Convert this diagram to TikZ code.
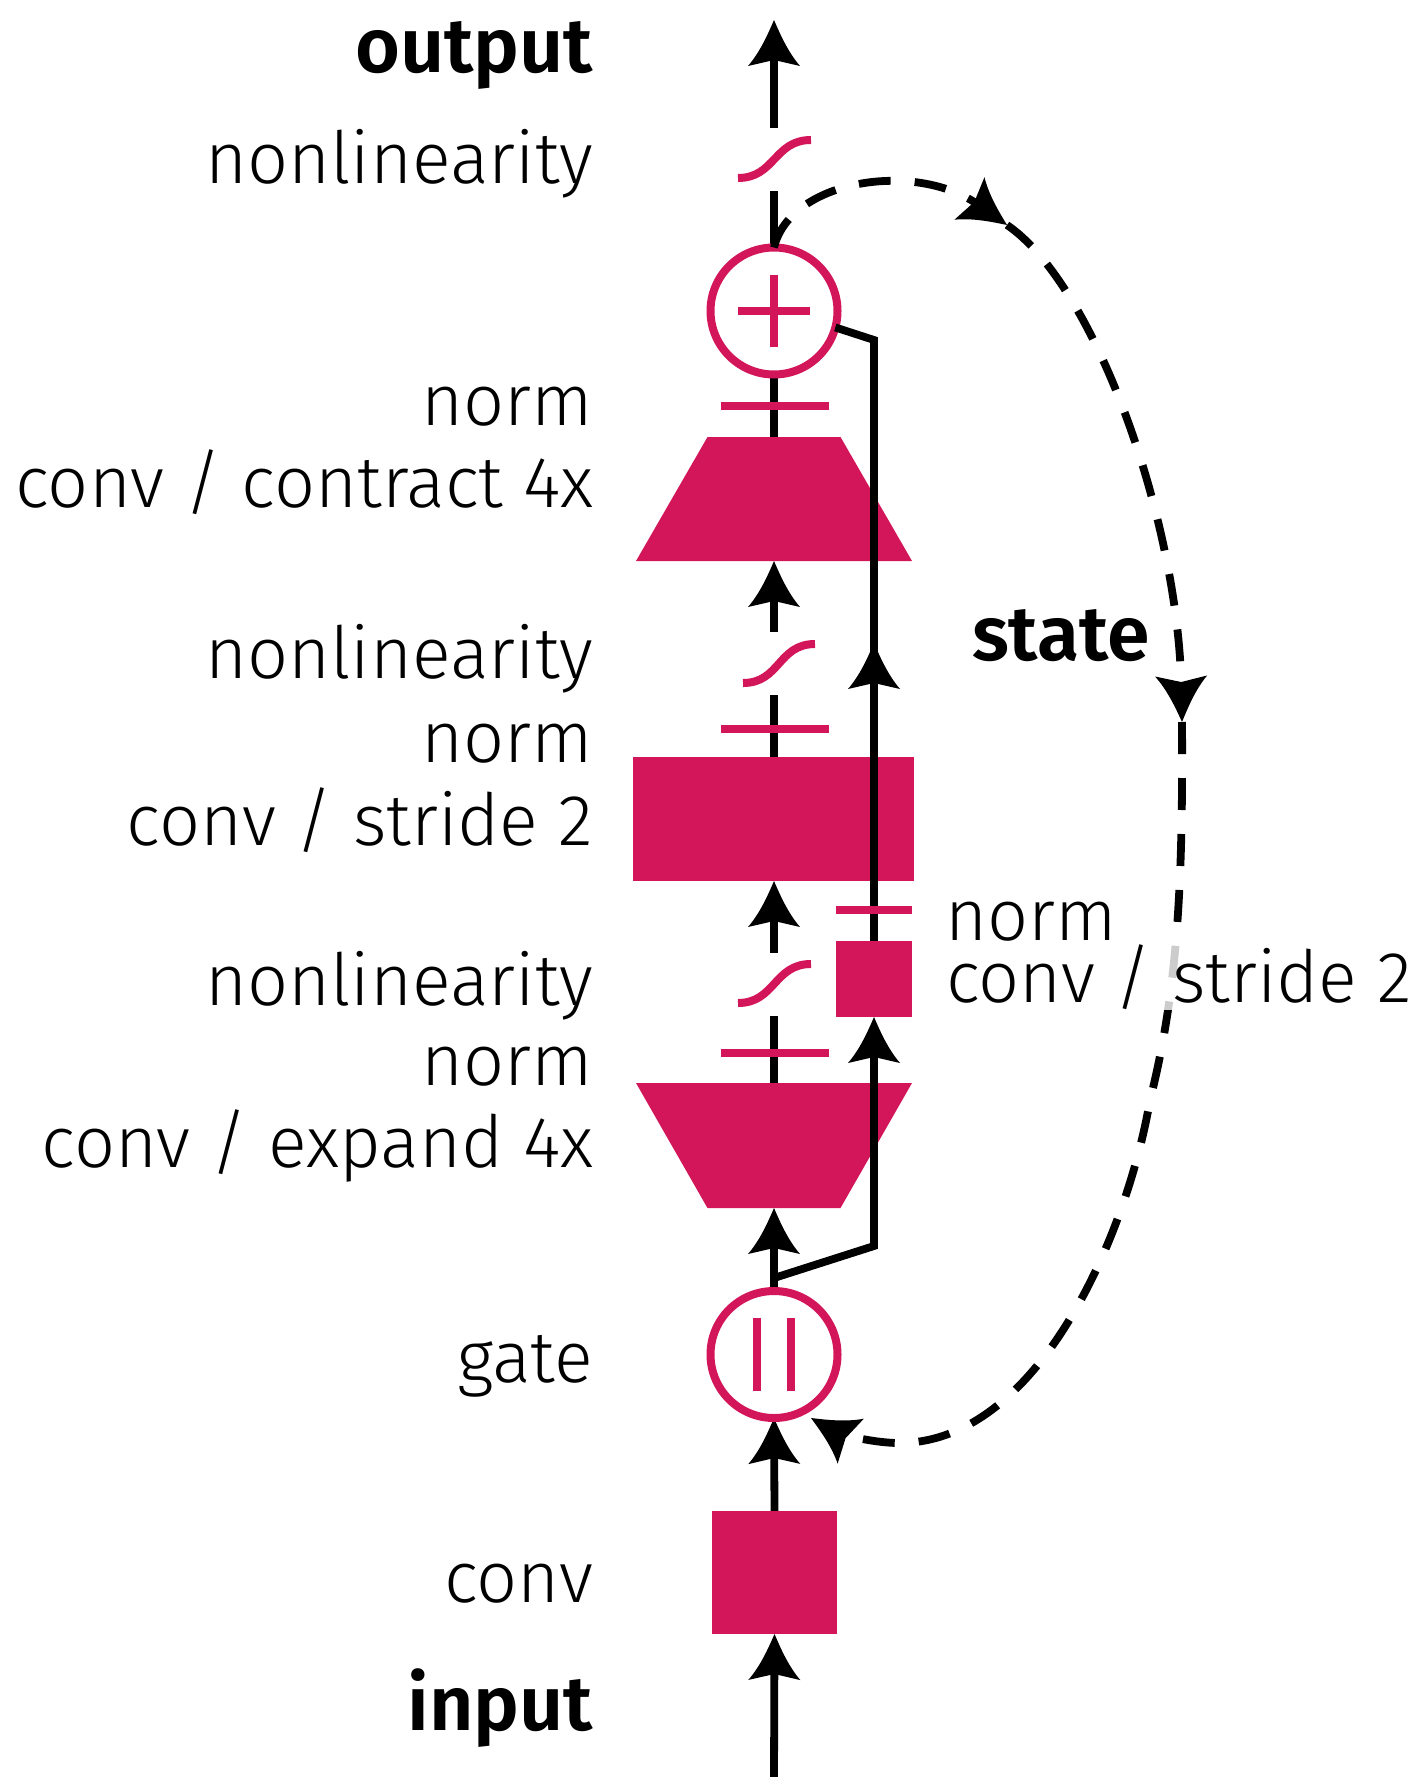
\documentclass[tikz,border=0pt]{standalone}
\usepackage{fontspec}
\setmainfont{Fira Sans Light}[BoldFont={Fira Sans SemiBold}]
\usetikzlibrary{arrows.meta}
\definecolor{mag}{RGB}{211,22,89}

\pgfdeclarearrow{
  name=Fancy,
  setup code={
    \pgfarrowssettipend{0pt}
    \pgfarrowssetlineend{-35pt}
    \pgfarrowssetbackend{-46pt}
    \pgfarrowshullpoint{0pt}{0pt}
    \pgfarrowshullpoint{-46pt}{26pt}
    \pgfarrowshullpoint{-46pt}{-26pt}
  },
  drawing code={
    \pgfpathmoveto{\pgfqpoint{0pt}{0pt}}
    \pgfpathcurveto{\pgfqpoint{-15pt}{6.5pt}}{\pgfqpoint{-32pt}{14pt}}{\pgfqpoint{-46pt}{26pt}}
    \pgfpathlineto{\pgfqpoint{-40pt}{0pt}}
    \pgfpathlineto{\pgfqpoint{-46pt}{-26pt}}
    \pgfpathcurveto{\pgfqpoint{-32pt}{-14pt}}{\pgfqpoint{-15pt}{-6.5pt}}{\pgfqpoint{0pt}{0pt}}
    \pgfpathclose
    \pgfusepathqfill
  }
}

\pgfdeclarelayer{paper}
\pgfdeclarelayer{bg}
\pgfdeclarelayer{skip}
\pgfdeclarelayer{fg}
\pgfsetlayers{paper,bg,main,skip,fg}

\tikzset{
  ln/.style={line width=7.8pt, draw=black},
  arr/.style={ln, -{Fancy}},
  dashln/.style={ln, dash pattern=on 32pt off 24pt, -{Fancy}},
  ghost/.style={draw=none, fill=none, inner sep=0pt, outer sep=0pt, rectangle},
  magbox/.style={fill=mag, draw=none, inner sep=0pt, outer sep=0pt, rectangle},
  normbar/.style={magbox, minimum width=108pt, minimum height=8pt},
  ring/.style={circle, draw=mag, line width=8pt, minimum size=127pt, inner sep=0pt, outer sep=0pt},
  magln/.style={draw=mag, line width=8pt},
  sigbox/.style={ghost, minimum width=73pt, minimum height=63pt},
  lbl/.style={inner sep=0pt, outer sep=0pt, anchor=base east, font=\fontsize{72pt}{86pt}\selectfont},
  rlbl/.style={inner sep=0pt, outer sep=0pt, anchor=base west, font=\fontsize{72pt}{86pt}\selectfont},
  blbl/.style={font=\fontsize{77pt}{90pt}\selectfont\bfseries},
}

\begin{document}
\begin{tikzpicture}[x=1pt, y=-1pt]
\begin{pgfonlayer}{paper}
\fill[white] (0,0) rectangle (1414,1777);
\end{pgfonlayer}
\useasboundingbox (0,0) rectangle (1414,1777);

% ---------- main shapes ----------
\node[magbox, minimum width=125pt, minimum height=123pt] (conv0) at (774.5,1572.5) {};
\node[ring] (gate) at (774,1354.5) {};
\draw[magln] ([xshift=-17pt, yshift=-36.5pt]gate.center) -- ([xshift=-17pt, yshift=36.5pt]gate.center);
\draw[magln] ([xshift=17pt, yshift=-36.5pt]gate.center) -- ([xshift=17pt, yshift=36.5pt]gate.center);

\node[ghost, minimum width=276pt, minimum height=125pt] (expand) at (774,1145.5) {};
\fill[mag] (expand.north west) -- (expand.north east)
  -- ([xshift=-71.5pt]expand.south east) -- ([xshift=71.5pt]expand.south west) -- cycle;

\node[magbox, minimum width=281pt, minimum height=124pt] (stride) at (773.5,819) {};

\node[ghost, minimum width=276pt, minimum height=124pt] (contract) at (774,499) {};
\fill[mag] ([xshift=71.5pt]contract.north west) -- ([xshift=-71.5pt]contract.north east)
  -- (contract.south east) -- (contract.south west) -- cycle;

\node[ring] (add) at (774,311) {};
\draw[magln] ([xshift=-36pt]add.center) -- ([xshift=36pt]add.center);
\draw[magln] ([yshift=-36pt]add.center) -- ([yshift=36pt]add.center);

% sigmoid placeholders and curves
\node[sigbox] (sig1) at (774.5,159.5) {};
\node[sigbox] (sig2) at (779,663.5) {};
\node[sigbox] (sig3) at (774.5,984) {};
\draw[magln] (738,178) .. controls (775,178) and (774,140) .. (811,140);
\draw[magln] (743,683) .. controls (780,683) and (778,644) .. (815,644);
\draw[magln] (738,1003) .. controls (775,1003) and (774,964) .. (811,964);

% front shapes: norm bars and small conv
\begin{pgfonlayer}{fg}
\node[normbar] (n1) at (775,406) {};
\node[normbar] (n2) at (775,729) {};
\node[normbar] (n3) at (775,1053) {};
\node[magbox, minimum width=76pt, minimum height=8pt] (sn) at (874,910) {};
\node[magbox, minimum width=76pt, minimum height=76pt] (sconv) at (874,979) {};
\end{pgfonlayer}

\coordinate (outtip) at (774,20);
\coordinate (intail) at (774,1777);
\coordinate (split) at (774,1278);
\coordinate (bend) at (874,1246);
\coordinate (midarr) at (874,643);
\coordinate (topbend) at (874,340);

% ---------- main line ----------
\begin{pgfonlayer}{bg}
\draw[arr] (intail) -- (conv0.south);
\draw[arr] (conv0.north) -- (gate.south);
\draw[arr] (gate.north) -- (expand.south);
\draw[ln] (expand.north) -- (sig3.south -| add.center);
\draw[arr] (sig3.north -| add.center) -- (stride.south -| add.center);
\draw[ln] (stride.north -| add.center) -- (sig2.south -| add.center);
\draw[arr] (sig2.north -| add.center) -- (contract.south);
\draw[ln] (contract.north) -- (add.south);
\draw[ln] (add.north) -- (sig1.south -| add.center);
\draw[arr] (sig1.north -| add.center) -- (outtip);
\end{pgfonlayer}

% ---------- skip path ----------
\begin{pgfonlayer}{skip}
\draw[arr] (split) -- (bend) -- (sconv.south);
\draw[arr] (sconv.north) -- (midarr);
\draw[ln] ([yshift=-20pt]midarr) -- (topbend) -- (add.-15);
\end{pgfonlayer}

% ---------- state loop and labels ----------
\begin{pgfonlayer}{fg}
\coordinate (tipA) at (1007,225);
\coordinate (tipB) at (1182,722);
\coordinate (tipC) at (811,1418);
\draw[dashln] (add.north) .. controls (790,180) and (915,160) .. (tipA);
\draw[dashln] (tipA) .. controls (1095,285) and (1178,520) .. (tipB);
\draw[dashln] (tipB) .. controls (1183,880) and (1178,990) .. (1150,1100)
  .. controls (1128,1230) and (1040,1443) .. (899,1443)
  .. controls (870,1443) and (835,1432) .. (tipC);

\node[lbl, blbl] (l-out) at (593,72) {output};
\node[lbl] (l-nl1) at (593,183) {nonlinearity};
\node[lbl] (l-n1) at (593,425) {norm};
\node[lbl] (l-ct) at (593,507) {conv / contract 4x};
\node[lbl] (l-nl2) at (593,678) {nonlinearity};
\node[lbl] (l-n2) at (593,762) {norm};
\node[lbl] (l-st) at (593,845) {conv / stride 2};
\node[lbl] (l-nl3) at (593,1005) {nonlinearity};
\node[lbl] (l-n3) at (593,1085) {norm};
\node[lbl] (l-ex) at (593,1167) {conv / expand 4x};
\node[lbl] (l-gate) at (593,1382) {gate};
\node[lbl] (l-conv) at (593,1602) {conv};
\node[lbl, blbl] (l-in) at (593,1730) {input};
\node[rlbl, blbl] (l-state) at (972,660) {state};
\node[rlbl] (l-sn) at (945,940) {norm};
\node[rlbl, fill=white, fill opacity=0.8, text opacity=1, inner sep=1pt] (l-ss) at (945,1002) {conv / stride 2};
\end{pgfonlayer}
\end{tikzpicture}
\end{document}
